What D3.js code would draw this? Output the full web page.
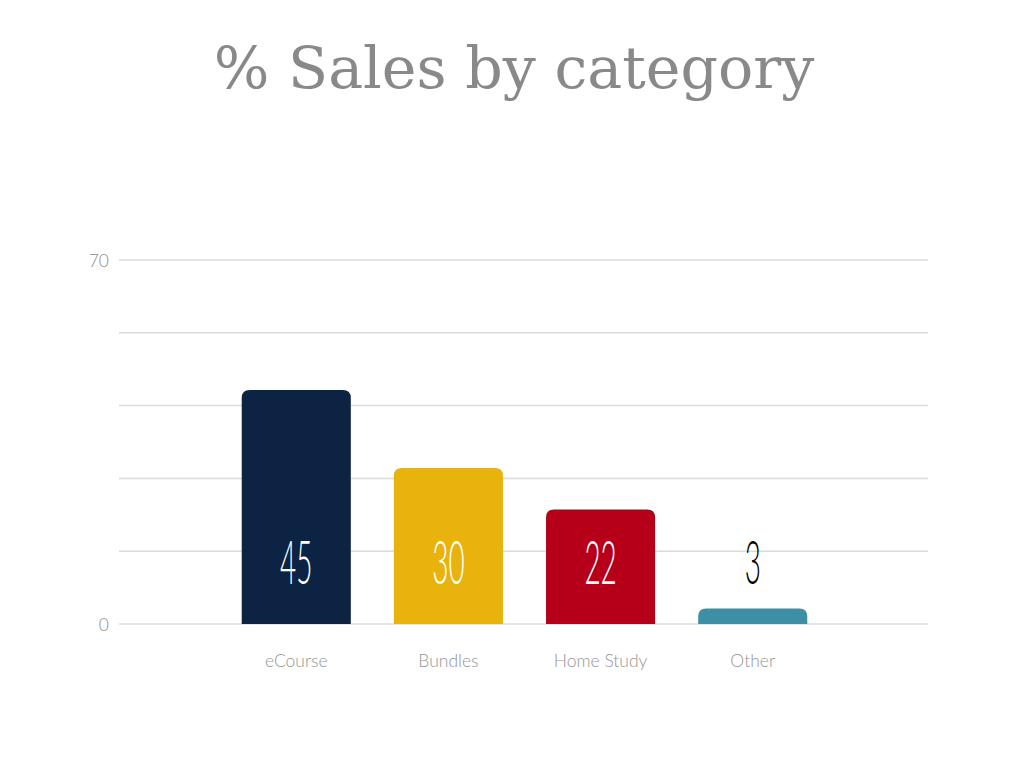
<!DOCTYPE html>
<html><head><meta charset="utf-8">
<script src="https://cdn.jsdelivr.net/npm/d3@7"></script>
<style>body{margin:0;background:#fff}svg{display:block}</style>
</head><body>
<svg id="c" width="1024" height="768"></svg>
<script>
const categories = ["eCourse", "Bundles", "Home Study", "Other"];
const values = [45, 30, 22, 3];
const colors = ["#0c2344", "#e8b30c", "#b6001a", "#3c8fa4"];
const yTicks = [0, 70];
const gridTicks = [0, 14, 28, 42, 56, 70];
const labelAt = 11.3;

const svg = d3.select("#c");
const x = d3.scaleBand().domain(categories).range([120, 929]).paddingInner(0.283).paddingOuter(0.80);
const y = d3.scaleLinear().domain([0, 70]).range([624, 260]);

svg.append("text").attr("x", 514).attr("y", 88).attr("text-anchor", "middle")
  .attr("font-family", "DejaVu Serif").attr("font-size", 58.6).attr("fill", "#898989")
  .text("% Sales by category");

svg.append("g").selectAll("line").data(gridTicks).join("line")
  .attr("x1", 119).attr("x2", 928).attr("y1", d => y(d)).attr("y2", d => y(d))
  .attr("stroke", "#dcdcdc").attr("stroke-width", 1.5);

const yAxis = d3.axisLeft(y).tickValues(yTicks).tickSize(0).tickPadding(0);
const ya = svg.append("g").attr("transform", "translate(109,0)").call(yAxis);
ya.select(".domain").remove();
ya.selectAll("text").attr("font-family", "Lato").attr("font-weight", 300).attr("font-size", 17.5).attr("fill", "#8a8a8a").attr("dy", "0.35em");

const r = 8;
function barPath(d, i) {
  const x0 = x(categories[i]), w = x.bandwidth(), y0 = y(d), y1 = y(0);
  const rr = Math.min(r, (y1 - y0));
  return `M${x0},${y1}V${y0 + rr}Q${x0},${y0} ${x0 + rr},${y0}H${x0 + w - rr}Q${x0 + w},${y0} ${x0 + w},${y0 + rr}V${y1}Z`;
}
svg.append("g").selectAll("path").data(values).join("path")
  .attr("d", barPath).attr("fill", (d, i) => colors[i]);

svg.append("g").selectAll("text").data(values).join("text")
  .attr("transform", (d, i) => `translate(${x(categories[i]) + x.bandwidth() / 2},${y(labelAt) + 19}) scale(0.45,1)`)
  .attr("text-anchor", "middle").attr("font-family", "Lato").attr("font-weight", 300).attr("font-size", 62)
  .attr("fill", d => d > labelAt + 10 ? "#ffffff" : "#000000")
  .text(d => d);

const xAxis = d3.axisBottom(x).tickSize(0).tickPadding(0);
const xa = svg.append("g").attr("transform", "translate(0,653)").call(xAxis);
xa.select(".domain").remove();
xa.selectAll("text").attr("font-family", "Lato").attr("font-weight", 300).attr("font-size", 17.5).attr("fill", "#959595").attr("dy", "0.8em");
</script>
</body></html>
